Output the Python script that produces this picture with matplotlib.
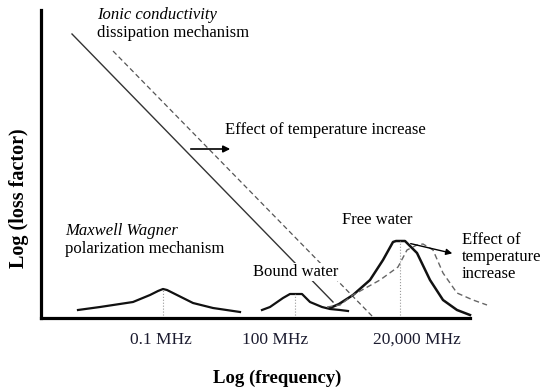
import matplotlib
matplotlib.use("Agg")
import matplotlib.pyplot as plt

plt.rcParams['font.family'] = ['Liberation Serif', 'DejaVu Serif']

# schematic values (arbitrary log units)
ionic_x = [31, 292]
ionic_y = [284, 16]
ionic_hot_x = [72, 332]
ionic_hot_y = [267, 1]

mw_x = [37, 59, 92, 109, 117, 122, 126, 136, 152, 172, 199]
mw_y = [8, 11, 16, 23, 27, 29, 28, 23, 15, 10, 6]

bound_x = [221, 229, 242, 249, 254, 261, 269, 281, 289, 299, 307]
bound_y = [8, 11, 20, 24, 24, 24, 16, 11, 9, 8, 7]

free_x = [289, 298, 312, 329, 342, 352, 355, 364, 376, 389, 402, 416, 429]
free_y = [10, 14, 23, 38, 58, 76, 77, 77, 65, 38, 18, 8, 3]

free_hot_x = [286, 299, 312, 339, 357, 366, 376, 382, 392, 402, 416, 432, 446]
free_hot_y = [11, 13, 23, 38, 51, 68, 73, 74, 68, 45, 25, 18, 13]

peak_x = [122, 254, 359]
peak_y = [29, 24, 77]

tick_pos = [120, 234, 376]
tick_labels = ['0.1 MHz', '100 MHz', '20,000 MHz']

fig = plt.figure(figsize=(5.5, 3.87), dpi=100)
ax = fig.add_axes([41 / 550, 69 / 387, 459 / 550, 313 / 387])
ax.set_xlim(0, 459)
ax.set_ylim(0, 313)

# conductivity lines
ax.plot(ionic_x, ionic_y, color='#333333', lw=1.0)
ax.plot(ionic_hot_x, ionic_hot_y, color='#555555', lw=0.9, ls=(0, (4, 2.5)))

# relaxation peaks
ax.plot(mw_x, mw_y, color='#111111', lw=1.6)
ax.plot(bound_x, bound_y, color='#111111', lw=1.6)
ax.plot(free_x, free_y, color='#111111', lw=1.8)
ax.plot(free_hot_x, free_hot_y, color='#666666', lw=1.0, ls=(0, (4, 2.5)))

for px, py in zip(peak_x, peak_y):
    ax.plot([px, px], [0, py], color='#999999', lw=0.8, ls=':')

# annotations
fs = 12
ax.text(56, 303, 'Ionic conductivity', style='italic', fontsize=fs, va='center')
ax.text(56, 285, 'dissipation mechanism', fontsize=fs, va='center')
ax.text(24, 87, 'Maxwell Wagner', style='italic', fontsize=fs, va='center')
ax.text(24, 69, 'polarization mechanism', fontsize=fs, va='center')
ax.text(184, 188, 'Effect of temperature increase', fontsize=fs, va='center')
ax.annotate('', xy=(192, 169), xytext=(147, 169),
            arrowprops=dict(arrowstyle='-|>', color='black', lw=1.2, mutation_scale=10))
ax.text(255, 46, 'Bound water', fontsize=fs, ha='center', va='center',
        bbox=dict(facecolor='white', edgecolor='none', pad=1))
ax.text(336, 98, 'Free water', fontsize=fs, ha='center', va='center')
ax.text(421, 61, 'Effect of\ntemperature\nincrease', fontsize=fs, va='center',
        linespacing=1.05)
ax.annotate('', xy=(414, 64), xytext=(367, 75),
            arrowprops=dict(arrowstyle='-|>', color='black', lw=1.0, mutation_scale=9))

# axes styling
for s in ['top', 'right']:
    ax.spines[s].set_visible(False)
ax.spines['left'].set_linewidth(2.3)
ax.spines['bottom'].set_linewidth(2.3)
ax.spines['left'].set_bounds(0, 308)
ax.spines['bottom'].set_bounds(0, 429)
ax.set_yticks([])
ax.set_xticks(tick_pos)
ax.set_xticklabels(tick_labels, fontsize=12.5, color='#1c1c30')
ax.tick_params(axis='x', length=0, pad=10)

ax.set_xlabel('Log (frequency)', fontsize=13.5, fontweight='bold')
ax.set_ylabel('Log (loss factor)', fontsize=14.5, fontweight='bold')
ax.xaxis.set_label_coords(0.514, -0.166)
ax.yaxis.set_label_coords(-0.026, 0.383)

fig.savefig('out.png', dpi=100)
